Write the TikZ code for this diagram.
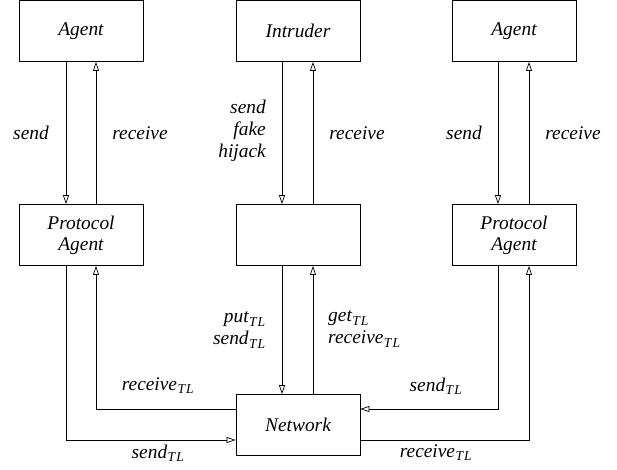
\documentclass[tikz,border=0pt]{standalone}
\usepackage{fontspec}
\setmainfont{Liberation Serif}
\usetikzlibrary{arrows.meta,calc}
\newcommand{\TLsub}{\textsubscript{\kern0.5pt T\kern1pt L}}
\begin{document}
\begin{tikzpicture}[x=1pt,y=-1pt,
  box/.style={draw,line width=0.7pt,minimum width=124pt,minimum height=61pt,inner sep=0pt,align=center,font=\fontsize{19.4}{21}\selectfont\itshape},
  arr/.style={line width=0.7pt,-{Triangle[open,length=9pt,width=6pt]}},
  lbl/.style={inner sep=0pt,font=\fontsize{19.4}{22}\selectfont\itshape}]
\useasboundingbox (0,0) rectangle (617,469);
\node[box] (agL) at (81,31) {Agent};
\node[box] (intr) at (298,31) {Intruder};
\node[box] (agR) at (514,31) {Agent};
\node[box] (paL) at (81,235) {Protocol\\Agent};
\node[box] (mid) at (298,235) {};
\node[box] (paR) at (514,235) {Protocol\\Agent};
\node[box] (net) at (298,425) {Network};
% top vertical connectors
\draw[arr] ([xshift=-15pt]agL.south) -- ([xshift=-15pt]paL.north);
\draw[arr] ([xshift=15pt]paL.north) -- ([xshift=15pt]agL.south);
\draw[arr] ([xshift=-16pt]intr.south) -- ([xshift=-16pt]mid.north);
\draw[arr] ([xshift=15pt]mid.north) -- ([xshift=15pt]intr.south);
\draw[arr] ([xshift=-16pt]agR.south) -- ([xshift=-16pt]paR.north);
\draw[arr] ([xshift=15pt]paR.north) -- ([xshift=15pt]agR.south);
% middle to network
\draw[arr] ([xshift=-16pt]mid.south) -- ([xshift=-16pt]net.north);
\draw[arr] ([xshift=15pt]net.north) -- ([xshift=15pt]mid.south);
% left loops
\draw[arr] ([yshift=16pt]net.west) -| ([xshift=15pt]paL.south);
\draw[arr] ([xshift=-15pt]paL.south) |- ([yshift=-15pt]net.west);
% right loops
\draw[arr] ([xshift=-16pt]paR.south) |- ([yshift=16pt]net.east);
\draw[arr] ([yshift=-15pt]net.east) -| ([xshift=15pt]paR.south);
% labels
\node[lbl] (l1) at (31,133) {send};
\node[lbl] (l2) at (140,133) {receive};
\node[lbl,align=right,anchor=east] (l3) at (266,131) {send\\fake\\hijack};
\node[lbl] (l4) at (357,133) {receive};
\node[lbl] (l5) at (464,133) {send};
\node[lbl] (l6) at (573,133) {receive};
\node[lbl,align=right,anchor=east] (l7) at (266,330) {put\TLsub\\send\TLsub};
\node[lbl,align=left,anchor=west] (l8) at (328,329) {get\TLsub\\receive\TLsub};
\node[lbl] (l9) at (158,386) {receive\TLsub};
\node[lbl] (l10) at (158,453) {send\TLsub};
\node[lbl] (l11) at (436,386) {send\TLsub};
\node[lbl] (l12) at (436,453) {receive\TLsub};
\end{tikzpicture}
\end{document}
